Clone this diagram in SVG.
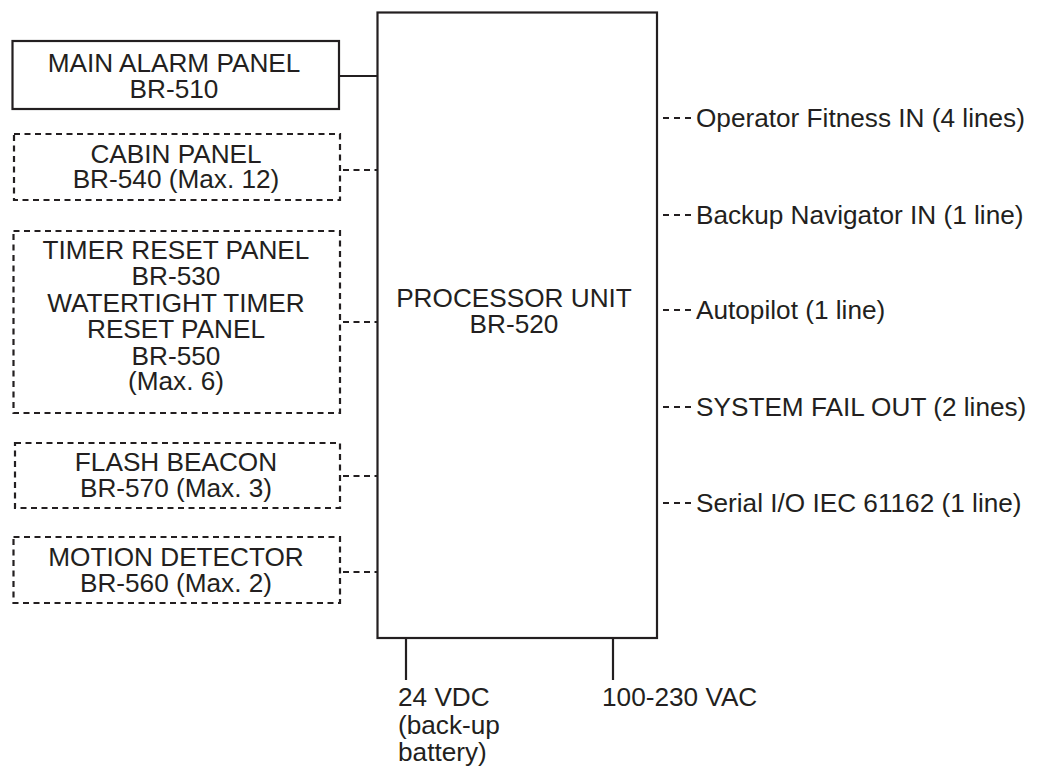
<svg xmlns="http://www.w3.org/2000/svg" width="1040" height="769" viewBox="0 0 1040 769">
<style>
text{font-family:"Liberation Sans",Arial,Helvetica,sans-serif;font-size:26.2px;fill:#231f20}
.c{text-anchor:middle}
.solid{fill:none;stroke:#231f20;stroke-width:2.2}
.dash{fill:none;stroke:#231f20;stroke-width:2.2;stroke-dasharray:6 4.5}
.sdash{fill:none;stroke:#231f20;stroke-width:1.8;stroke-dasharray:6 5}
</style>
<rect width="1040" height="769" fill="#fff"/>
<g id="processor">
<rect class="solid" x="377.5" y="12.5" width="279.5" height="625.5" stroke-width="2.5"/>
<text class="c" x="514" y="307">PROCESSOR UNIT</text>
<text class="c" x="514" y="333">BR-520</text>
</g>
<g id="main-alarm">
<rect class="solid" x="12.5" y="41" width="326.5" height="68"/>
<text class="c" x="174" y="71.5">MAIN ALARM PANEL</text>
<text class="c" x="174" y="97.5">BR-510</text>
</g>
<g id="cabin">
<rect class="dash" x="14" y="134" width="326" height="66"/>
<text class="c" x="176" y="163">CABIN PANEL</text>
<text class="c" x="176" y="188">BR-540 (Max. 12)</text>
</g>
<g id="timer">
<rect class="dash" x="13.5" y="231" width="326.5" height="182"/>
<text class="c" x="176" y="259">TIMER RESET PANEL</text>
<text class="c" x="176" y="285">BR-530</text>
<text class="c" x="176" y="311.5">WATERTIGHT TIMER</text>
<text class="c" x="176" y="338">RESET PANEL</text>
<text class="c" x="176" y="365">BR-550</text>
<text class="c" x="176" y="390">(Max. 6)</text>
</g>
<g id="flash">
<rect class="dash" x="15" y="443" width="325" height="65"/>
<text class="c" x="176" y="471">FLASH BEACON</text>
<text class="c" x="176" y="497">BR-570 (Max. 3)</text>
</g>
<g id="motion">
<rect class="dash" x="13.5" y="537" width="326.5" height="66"/>
<text class="c" x="176" y="566">MOTION DETECTOR</text>
<text class="c" x="176" y="592">BR-560 (Max. 2)</text>
</g>
<g id="connectors">
<line class="solid" x1="339" y1="76" x2="377.5" y2="76"/>
<line class="dash" x1="343" y1="170" x2="377" y2="170"/>
<line class="dash" x1="343" y1="322" x2="377" y2="322"/>
<line class="dash" x1="343" y1="476" x2="377" y2="476"/>
<line class="dash" x1="343" y1="572" x2="377" y2="572"/>
<line class="sdash" x1="663" y1="118" x2="692" y2="118"/>
<line class="sdash" x1="663" y1="215" x2="692" y2="215"/>
<line class="sdash" x1="663" y1="310" x2="692" y2="310"/>
<line class="sdash" x1="663" y1="407" x2="692" y2="407"/>
<line class="sdash" x1="663" y1="503" x2="692" y2="503"/>
<line class="solid" x1="406" y1="638" x2="406" y2="680"/>
<line class="solid" x1="613" y1="638" x2="613" y2="680"/>
</g>
<g id="labels">
<text x="696" y="127">Operator Fitness IN (4 lines)</text>
<text x="696" y="224">Backup Navigator IN (1 line)</text>
<text x="696" y="319">Autopilot (1 line)</text>
<text x="696" y="416">SYSTEM FAIL OUT (2 lines)</text>
<text x="696" y="512">Serial I/O IEC 61162 (1 line)</text>
<text x="398" y="706">24 VDC</text>
<text x="398" y="734">(back-up</text>
<text x="398" y="761">battery)</text>
<text x="602" y="706">100-230 VAC</text>
</g>
</svg>
